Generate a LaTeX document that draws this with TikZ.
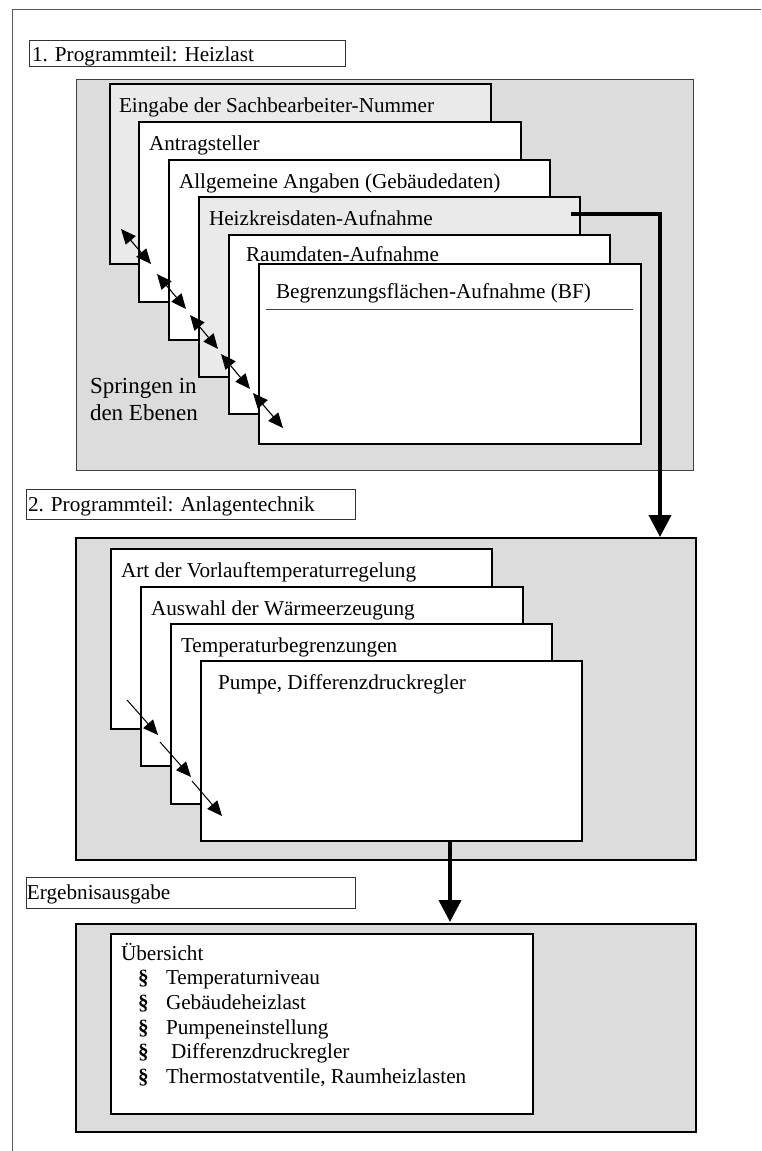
\documentclass[tikz,border=0pt]{standalone}
\usepackage{fontspec}
\setmainfont{Liberation Serif}
\usetikzlibrary{arrows.meta}
\definecolor{panelgray}{RGB}{220,220,220}
\definecolor{layergray}{RGB}{234,234,234}
\definecolor{framegray}{RGB}{90,90,90}
\begin{document}
\begin{tikzpicture}[x=1pt,y=-1pt,
  every node/.style={inner sep=0pt,outer sep=0pt},
  boxbase/.style={draw,rectangle,anchor=north west},
  panel/.style={boxbase,fill=panelgray,line width=1.2pt},
  paneltop/.style={boxbase,fill=panelgray,line width=1pt,draw=black!75},
  layer/.style={boxbase,fill=white,line width=1.6pt},
  graylayer/.style={layer,fill=layergray},
  titlebox/.style={boxbase,fill=white,line width=0.9pt,draw=black!80},
  txt/.style={anchor=base west,font=\fontsize{21.2}{25}\selectfont},
  bigtxt/.style={anchor=base west,font=\fontsize{23}{27}\selectfont},
  jumparrow/.style={line width=1.1pt,{Triangle[length=15pt,width=13pt]}-{Triangle[length=15pt,width=13pt]}},
  steparrow/.style={line width=1pt,-{Triangle[length=15pt,width=13pt]}},
  flowarrow/.style={line width=4pt,-{Triangle[length=22pt,width=22pt]}}]
\useasboundingbox (0,0) rectangle (761,1151);
\fill[white] (0,0) rectangle (761,1151);
% outer frame
\draw[framegray,line width=1pt] (12,1151) -- (12,9) -- (761,9);

% ---------- Part 1 ----------
\node[titlebox,minimum width=316pt,minimum height=26pt] (T1) at (29,40) {};
\node[txt] (T1t) at (32,61) {1. Programmteil: Heizlast};

\node[paneltop,minimum width=617pt,minimum height=391pt] (P1) at (76,79) {};

\node[graylayer,minimum width=381pt,minimum height=180pt] (L1) at (110,84) {};
\node[txt] (L1t) at (119,112) {Eingabe der Sachbearbeiter-Nummer};
\node[layer,minimum width=382pt,minimum height=180pt] (L2) at (139,122) {};
\node[txt] (L2t) at (149,150) {Antragsteller};
\node[layer,minimum width=381pt,minimum height=180pt] (L3) at (169,160) {};
\node[txt] (L3t) at (179,188) {Allgemeine Angaben (Gebäudedaten)};
\node[graylayer,minimum width=381pt,minimum height=180pt] (L4) at (199,197) {};
\node[txt] (L4t) at (209,225) {Heizkreisdaten-Aufnahme};
\node[layer,minimum width=381pt,minimum height=179pt] (L5) at (229,235) {};
\node[txt] (L5t) at (246,261) {Raumdaten-Aufnahme};
\node[layer,minimum width=382pt,minimum height=180pt] (L6) at (259,264) {};
\node[txt] (L6t) at (276,298) {Begrenzungsflächen-Aufnahme (BF)};
\coordinate (U1) at (266,309);
\coordinate (U2) at (633,309);
\draw[line width=0.9pt,black!75] (U1) -- (U2);

% jump arrows
\coordinate (a1s) at (121,229); \coordinate (a1e) at (151,264);
\coordinate (a2s) at (157,274); \coordinate (a2e) at (186,309);
\coordinate (a3s) at (190,315); \coordinate (a3e) at (218,349);
\coordinate (a4s) at (221,354); \coordinate (a4e) at (250,389);
\coordinate (a5s) at (253,393); \coordinate (a5e) at (283,428);
\draw[jumparrow] (a1s) -- (a1e);
\draw[jumparrow] (a2s) -- (a2e);
\draw[jumparrow] (a3s) -- (a3e);
\draw[jumparrow] (a4s) -- (a4e);
\draw[jumparrow] (a5s) -- (a5e);
\node[bigtxt] (J1) at (90,393) {Springen in};
\node[bigtxt] (J2) at (90,420) {den Ebenen};

% ---------- Part 2 ----------
\node[titlebox,minimum width=329pt,minimum height=30pt] (T2) at (26,489) {};
\node[txt] (T2t) at (28,511) {2. Programmteil: Anlagentechnik};

\node[panel,minimum width=620pt,minimum height=322pt] (P2) at (76,538) {};

\node[layer,minimum width=381pt,minimum height=180pt] (M1) at (111,549) {};
\node[txt] (M1t) at (121,577) {Art der Vorlauftemperaturregelung};
\node[layer,minimum width=382pt,minimum height=179pt] (M2) at (141,587) {};
\node[txt] (M2t) at (151,615) {Auswahl der Wärmeerzeugung};
\node[layer,minimum width=381pt,minimum height=180pt] (M3) at (171,624) {};
\node[txt] (M3t) at (181,652) {Temperaturbegrenzungen};
\node[layer,minimum width=381pt,minimum height=180pt] (M4) at (201,661) {};
\node[txt] (M4t) at (218,689) {Pumpe, Differenzdruckregler};

\coordinate (b1s) at (127,700); \coordinate (b1e) at (158,735);
\coordinate (b2s) at (160,742); \coordinate (b2e) at (191,777);
\coordinate (b3s) at (192,781); \coordinate (b3e) at (222,816);
\draw[steparrow] (b1s) -- (b1e);
\draw[steparrow] (b2s) -- (b2e);
\draw[steparrow] (b3s) -- (b3e);

% ---------- Part 3 ----------
\node[titlebox,minimum width=329pt,minimum height=31pt] (T3) at (26,877) {};
\node[txt] (T3t) at (27,899) {Ergebnisausgabe};

\node[panel,minimum width=620pt,minimum height=208pt] (P3) at (76,924) {};
\node[layer,line width=1.2pt,minimum width=422pt,minimum height=180pt] (R1) at (111,934) {};
\node[txt] (R0) at (121,960) {Übersicht};
\node[txt] (S1) at (138,984.7) {\textbf{§}};
\node[txt] (R1t) at (166,984.7) {Temperaturniveau};
\node[txt] (S2) at (138,1009.4) {\textbf{§}};
\node[txt] (R2t) at (166,1009.4) {Gebäudeheizlast};
\node[txt] (S3) at (138,1034.1) {\textbf{§}};
\node[txt] (R3t) at (166,1034.1) {Pumpeneinstellung};
\node[txt] (S4) at (138,1058.8) {\textbf{§}};
\node[txt] (R4t) at (171,1058.8) {Differenzdruckregler};
\node[txt] (S5) at (138,1083.5) {\textbf{§}};
\node[txt] (R5t) at (166,1083.5) {Thermostatventile, Raumheizlasten};

% ---------- flow connectors ----------
\coordinate (c1s) at (571,214);
\coordinate (c1e) at (660,537);
\draw[flowarrow] (c1s) -| (c1e);
\coordinate (c2s) at (450,841);
\coordinate (c2e) at (450,922);
\draw[flowarrow] (c2s) -- (c2e);
\end{tikzpicture}
\end{document}
